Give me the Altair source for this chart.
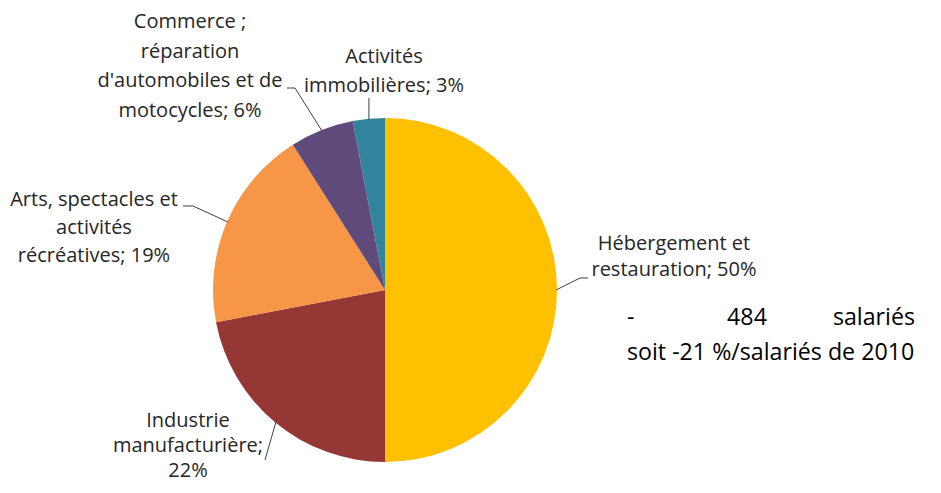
import math
import altair as alt
import pandas as pd

# ---- data ----
categories = [
    "Hébergement et restauration",
    "Industrie manufacturière",
    "Arts, spectacles et activités récréatives",
    "Commerce ; réparation d'automobiles et de motocycles",
    "Activités immobilières",
]
shares = [50, 22, 19, 6, 3]
label_lines = [
    ["Hébergement et", "restauration; 50%"],
    ["Industrie", "manufacturière;", "22%"],
    ["Arts, spectacles et", "activités", "récréatives; 19%"],
    ["Commerce ;", "réparation", "d'automobiles et de", "motocycles; 6%"],
    ["Activités", "immobilières; 3%"],
]
colors = ["#FFC000", "#953735", "#F79646", "#604A7B", "#31849B"]
note_line1 = ["-", "484", "salariés"]
note_line2 = "soit -21 %/salariés de 2010"

# ---- layout (styling) ----
W, H = 925, 477
CX, CY, R = 377, 282, 172
FONT = "Open Sans"
label_anchor = [  # center x, first-line y, line height
    (666, 236, 26),
    (180, 413, 25),
    (86, 192, 28),
    (182, 14, 29.5),
    (376, 49, 29),
]
leader_tail = [
    [(572, 270), (580, 270)],
    [(257, 452)],
    [(185, 198), (175, 198)],
    [(287, 80), (279, 80)],
    [(None, 90)],
]

pie_df = pd.DataFrame({"category": categories, "share": shares, "idx": range(len(categories))})

total = sum(shares)
label_rows, seg_rows = [], []
cum = 0
for i, s in enumerate(shares):
    mid = (cum + s / 2) / total * 2 * math.pi
    cum += s
    ex = CX + (R - 1) * math.sin(mid)
    ey = CY - (R - 1) * math.cos(mid)
    pts = [(ex, ey)]
    for (px, py) in leader_tail[i]:
        pts.append((ex if px is None else px, py))
    for a, b in zip(pts[:-1], pts[1:]):
        seg_rows.append({"x": a[0], "y": a[1], "x2": b[0], "y2": b[1]})
    ax, ay, lh = label_anchor[i]
    for j, t in enumerate(label_lines[i]):
        label_rows.append({"text": t, "x": ax, "y": ay + j * lh})

label_df = pd.DataFrame(label_rows)
seg_df = pd.DataFrame(seg_rows)

xs = alt.Scale(domain=[0, W])
ys = alt.Scale(domain=[0, H], reverse=True)

pie = alt.Chart(pie_df).mark_arc(radius=R).encode(
    theta=alt.Theta("share:Q", stack=True),
    color=alt.Color("category:N", scale=alt.Scale(domain=categories, range=colors), legend=None),
    order=alt.Order("idx:Q"),
    x=alt.value(CX),
    y=alt.value(CY),
)

leaders = alt.Chart(seg_df).mark_rule(color="#404040", strokeWidth=1).encode(
    x=alt.X("x:Q", scale=xs, axis=None),
    y=alt.Y("y:Q", scale=ys, axis=None),
    x2="x2:Q",
    y2="y2:Q",
)

labels = alt.Chart(label_df).mark_text(
    font=FONT, fontSize=20, color="#262626", align="center", baseline="middle"
).encode(
    x=alt.X("x:Q", scale=xs, axis=None),
    y=alt.Y("y:Q", scale=ys, axis=None),
    text="text:N",
)

note_y1, note_y2 = 310, 345
note_parts = []
for t, x, al in zip(note_line1, [619, 739, 907], ["left", "center", "right"]):
    note_parts.append(
        alt.Chart(pd.DataFrame({"text": [t], "x": [x], "y": [note_y1]}))
        .mark_text(font=FONT, fontSize=23.2, color="#000000", align=al, baseline="middle")
        .encode(x=alt.X("x:Q", scale=xs, axis=None), y=alt.Y("y:Q", scale=ys, axis=None), text="text:N")
    )
note_parts.append(
    alt.Chart(pd.DataFrame({"text": [note_line2], "x": [619], "y": [note_y2]}))
    .mark_text(font=FONT, fontSize=23.2, color="#000000", align="left", baseline="middle")
    .encode(x=alt.X("x:Q", scale=xs, axis=None), y=alt.Y("y:Q", scale=ys, axis=None), text="text:N")
)

chart = alt.layer(pie, leaders, labels, *note_parts).properties(
    width=W, height=H, padding=0, autosize="none"
).configure_view(stroke=None)

chart.save("out.html", embed_options={"renderer": "svg", "actions": False})
